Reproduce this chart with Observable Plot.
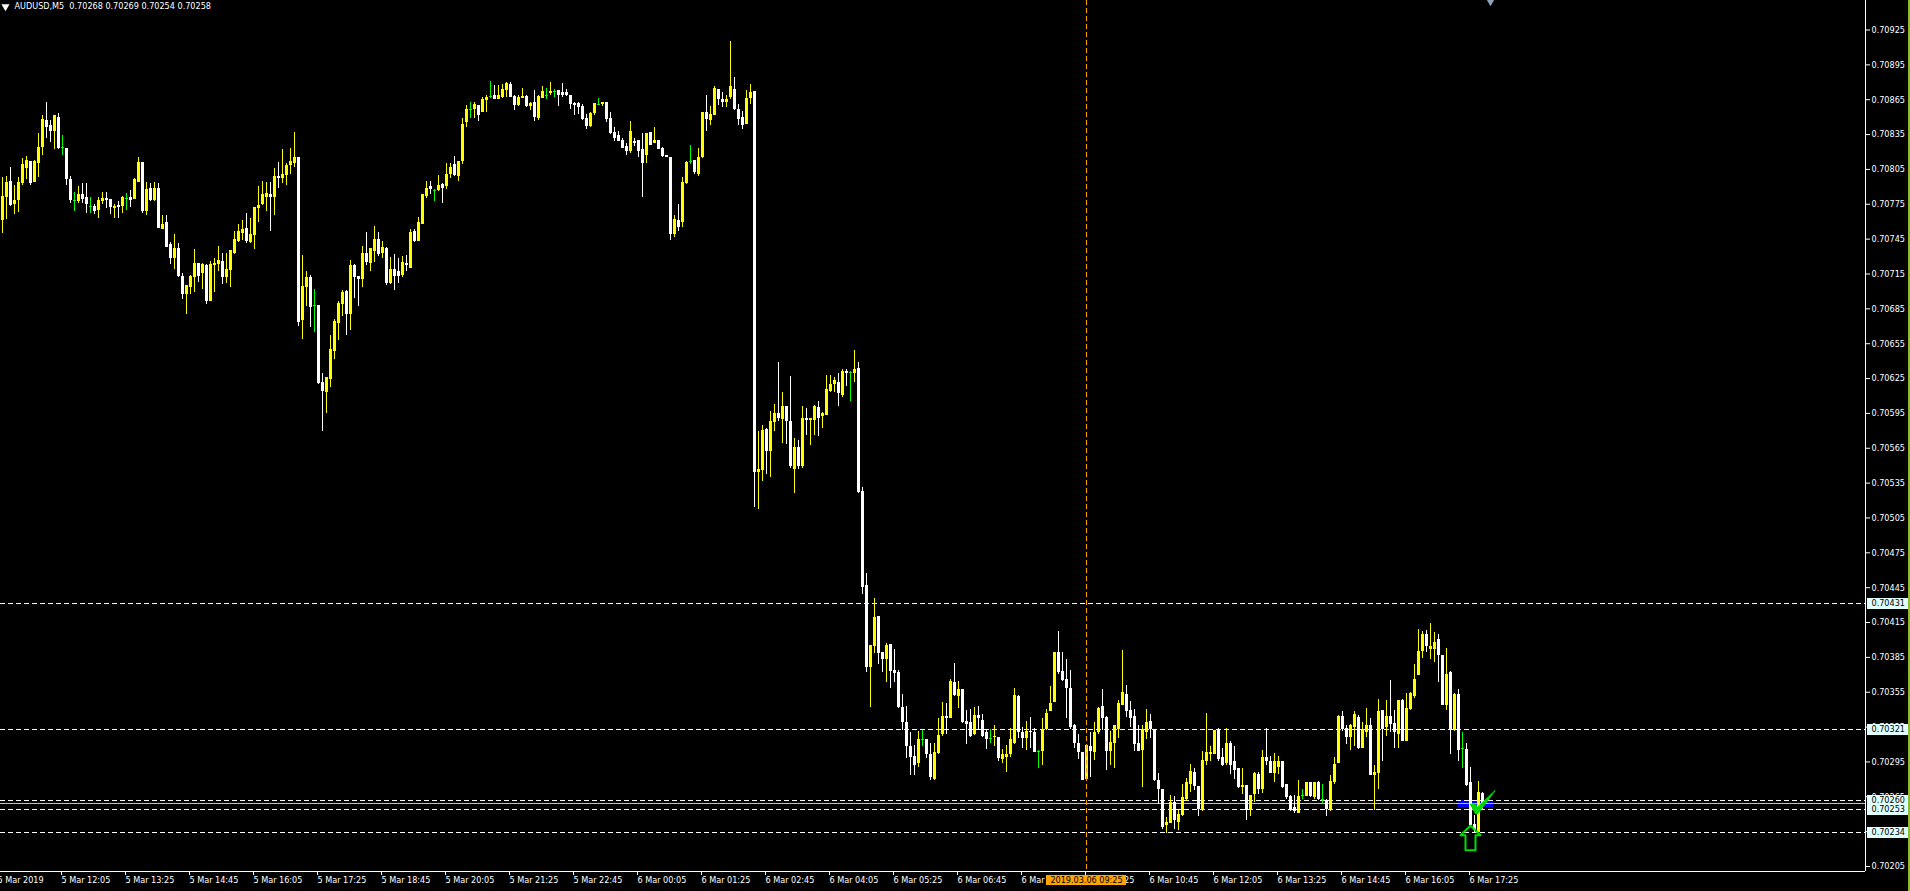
<!DOCTYPE html>
<html>
<head>
<meta charset="utf-8">
<style>
html,body{margin:0;padding:0;background:#000;overflow:hidden}
#strip{position:absolute;left:1908px;top:0;width:2px;height:891px;background:#8fbc2f}
svg{display:block}
</style>
<script src="https://cdn.jsdelivr.net/npm/d3@7"></script>
<script src="https://cdn.jsdelivr.net/npm/@observablehq/plot@0.6"></script>
</head>
<body>
<div id="chart"></div>
<div id="strip"></div>
<script>
// Prices in points (1 point = 0.00001) for AUDUSD M5, first candle 5 Mar 2019 10:50
const highs = [
70798,70799,70807,70791,70798,70814,70816,70812,70813,70836,
70851,70863,70847,70851,70853,70834,70823,70799,70785,70790,
70793,70793,70781,70775,70781,70785,70785,70779,70775,70777,
70782,70784,70787,70797,70815,70811,70794,70793,70794,70793,
70765,70765,70742,70749,70741,70715,70705,70714,70736,70724,
70724,70723,70726,70728,70739,70733,70733,70735,70752,70758,
70761,70767,70763,70772,70790,70795,70794,70794,70806,70811,
70822,70810,70823,70837,70815,70731,70717,70714,70702,70688,
70629,70626,70662,70676,70691,70701,70701,70727,70723,70713,
70739,70751,70737,70756,70751,70743,70738,70729,70732,70728,
70730,70731,70753,70753,70764,70783,70795,70795,70788,70800,
70793,70810,70810,70816,70812,70849,70860,70863,70863,70860,
70867,70869,70881,70877,70877,70878,70880,70880,70869,70869,
70875,70869,70863,70873,70869,70876,70875,70880,70874,70873,
70879,70874,70869,70863,70863,70861,70852,70854,70862,70866,
70863,70863,70854,70841,70838,70832,70827,70846,70832,70830,
70836,70836,70837,70841,70830,70824,70817,70815,70765,70775,
70798,70812,70826,70813,70823,70854,70869,70859,70876,70874,
70871,70869,70915,70884,70861,70855,70873,70878,70872,70579,
70585,70582,70597,70603,70639,70613,70601,70627,70573,70572,
70601,70599,70591,70602,70605,70596,70628,70628,70626,70629,
70633,70633,70631,70649,70639,70531,70457,70395,70436,70420,
70389,70397,70396,70392,70374,70353,70343,70320,70309,70321,
70322,70314,70311,70311,70332,70346,70345,70366,70380,70364,
70357,70339,70340,70342,70343,70336,70323,70323,70326,70316,
70306,70309,70324,70358,70352,70325,70330,70333,70324,70305,
70332,70340,70360,70389,70407,70389,70383,70374,70327,70319,
70303,70309,70320,70329,70342,70357,70334,70321,70326,70348,
70391,70361,70347,70340,70326,70326,70340,70336,70322,70285,
70271,70247,70266,70265,70253,70276,70281,70293,70289,70274,
70304,70337,70308,70322,70324,70307,70324,70313,70308,70289,
70289,70275,70266,70286,70286,70305,70324,70300,70302,70300,
70295,70276,70266,70266,70279,70271,70277,70277,70277,70278,
70276,70263,70283,70299,70335,70338,70326,70327,70338,70335,
70329,70341,70332,70292,70349,70339,70348,70365,70339,70348,
70349,70354,70355,70379,70409,70407,70408,70414,70406,70405,
70387,70393,70373,70354,70357,70320,70311,70290,70249,70278,70269];
const bodyTops = [
70782,70794,70795,70778,70794,70809,70813,70812,70812,70824,
70848,70847,70843,70851,70850,70824,70823,70796,70778,70783,
70783,70781,70773,70773,70778,70780,70780,70779,70773,70774,
70781,70780,70781,70796,70811,70811,70788,70789,70789,70789,
70758,70759,70740,70737,70737,70713,70705,70713,70724,70724,
70723,70722,70723,70724,70727,70726,70719,70735,70745,70752,
70753,70754,70749,70772,70774,70783,70784,70783,70799,70799,
70801,70808,70812,70815,70815,70704,70712,70712,70688,70688,
70622,70626,70650,70674,70690,70699,70700,70722,70722,70713,
70733,70733,70737,70745,70745,70738,70737,70719,70719,70717,
70725,70724,70751,70752,70759,70783,70789,70790,70787,70791,
70792,70801,70807,70809,70812,70844,70857,70857,70861,70860,
70865,70867,70868,70869,70869,70874,70879,70878,70868,70867,
70868,70868,70862,70863,70868,70872,70869,70872,70872,70873,
70871,70871,70869,70862,70862,70859,70849,70853,70862,70861,
70863,70863,70849,70837,70834,70830,70825,70838,70829,70830,
70822,70836,70837,70830,70830,70823,70817,70815,70762,70761,
70794,70811,70812,70813,70815,70854,70854,70852,70875,70874,
70865,70865,70876,70874,70857,70850,70866,70871,70872,70547,
70580,70581,70588,70595,70595,70601,70601,70588,70566,70566,
70591,70591,70591,70601,70600,70595,70616,70620,70623,70622,
70631,70631,70630,70633,70634,70528,70447,70395,70419,70420,
70389,70395,70396,70374,70372,70342,70329,70308,70300,70314,
70314,70314,70301,70303,70318,70334,70334,70364,70363,70357,
70357,70330,70329,70335,70335,70331,70320,70315,70317,70316,
70301,70301,70314,70352,70351,70320,70321,70321,70320,70304,
70323,70337,70345,70389,70389,70373,70366,70358,70326,70311,
70303,70309,70308,70320,70341,70343,70333,70312,70326,70345,
70355,70353,70339,70334,70311,70323,70329,70330,70322,70279,
70271,70243,70260,70260,70250,70264,70277,70287,70286,70274,
70296,70303,70303,70322,70322,70299,70311,70311,70295,70289,
70275,70275,70266,70285,70284,70299,70299,70295,70295,70295,
70295,70276,70265,70256,70265,70266,70277,70277,70277,70277,
70263,70262,70278,70293,70334,70334,70324,70326,70336,70333,
70322,70326,70326,70286,70338,70339,70334,70334,70328,70348,
70348,70341,70354,70366,70390,70405,70405,70394,70398,70400,
70387,70370,70372,70353,70353,70307,70306,70277,70241,70269,70268];
const bodyBottoms = [
70761,70781,70774,70775,70778,70793,70806,70793,70794,70810,
70824,70841,70838,70838,70823,70824,70796,70778,70778,70777,
70779,70775,70773,70769,70770,70777,70778,70772,70771,70772,
70773,70780,70778,70779,70794,70769,70769,70778,70778,70754,
70753,70738,70728,70728,70713,70697,70697,70703,70712,70713,
70715,70691,70691,70722,70723,70712,70712,70718,70733,70743,
70750,70743,70742,70748,70771,70775,70781,70781,70781,70797,
70797,70800,70808,70810,70673,70675,70703,70686,70688,70621,
70614,70613,70624,70648,70672,70689,70680,70680,70712,70710,
70710,70725,70724,70734,70732,70733,70707,70707,70713,70713,
70714,70722,70720,70743,70743,70758,70782,70788,70787,70787,
70789,70790,70801,70800,70799,70812,70845,70857,70857,70851,
70854,70864,70868,70865,70865,70867,70873,70867,70860,70860,
70866,70859,70859,70850,70849,70866,70869,70870,70872,70869,
70869,70869,70861,70860,70858,70848,70842,70842,70853,70861,
70861,70848,70836,70832,70829,70823,70820,70820,70827,70820,
70810,70817,70826,70827,70822,70816,70815,70749,70749,70755,
70759,70793,70812,70802,70801,70815,70848,70847,70851,70865,
70863,70863,70867,70857,70848,70843,70844,70866,70544,70544,
70546,70562,70562,70587,70591,70590,70588,70549,70547,70549,
70549,70589,70589,70589,70591,70592,70593,70614,70620,70612,
70610,70629,70630,70629,70527,70445,70376,70376,70394,70388,
70383,70383,70373,70371,70342,70329,70308,70299,70292,70294,
70314,70301,70282,70280,70302,70319,70332,70332,70352,70351,
70329,70327,70317,70319,70332,70317,70314,70315,70316,70298,
70297,70299,70301,70311,70320,70315,70315,70320,70303,70304,
70304,70323,70338,70346,70372,70365,70358,70325,70311,70303,
70279,70280,70304,70303,70320,70332,70304,70304,70311,70323,
70344,70338,70332,70310,70304,70305,70320,70323,70279,70271,
70239,70240,70242,70245,70243,70249,70263,70276,70274,70254,
70253,70295,70301,70301,70297,70292,70294,70292,70288,70273,
70273,70253,70253,70267,70271,70271,70295,70285,70285,70290,
70273,70264,70254,70252,70251,70266,70265,70265,70264,70263,
70263,70254,70253,70277,70294,70323,70316,70316,70325,70307,
70307,70320,70283,70283,70285,70323,70325,70327,70320,70319,
70313,70313,70340,70351,70369,70390,70394,70392,70392,70387,
70344,70344,70322,70322,70305,70307,70275,70240,70236,70234,70258];
const lows = [
70750,70762,70773,70766,70768,70791,70796,70791,70794,70798,
70817,70832,70828,70822,70822,70817,70791,70776,70769,70776,
70776,70767,70767,70766,70763,70775,70771,70766,70763,70763,
70767,70770,70772,70779,70794,70767,70765,70777,70777,70754,
70753,70738,70723,70719,70712,70693,70680,70697,70699,70708,
70702,70689,70691,70699,70717,70706,70707,70703,70732,70742,
70744,70741,70741,70736,70759,70774,70769,70752,70765,70789,
70793,70791,70801,70807,70670,70659,70687,70669,70665,70620,
70579,70595,70617,70641,70658,70678,70662,70666,70694,70687,
70703,70722,70717,70725,70730,70728,70705,70706,70701,70707,
70712,70717,70720,70742,70743,70758,70780,70783,70777,70786,
70776,70788,70797,70799,70795,70809,70841,70849,70849,70846,
70854,70854,70866,70865,70865,70866,70867,70867,70856,70859,
70866,70858,70856,70846,70847,70866,70865,70869,70867,70859,
70867,70868,70857,70851,70852,70847,70839,70841,70851,70860,
70859,70845,70835,70829,70829,70823,70817,70819,70825,70815,
70781,70810,70826,70827,70822,70815,70815,70744,70746,70752,
70755,70792,70809,70801,70799,70814,70838,70843,70851,70860,
70858,70858,70865,70856,70843,70839,70844,70861,70514,70512,
70536,70542,70540,70579,70588,70569,70568,70548,70526,70547,
70548,70576,70567,70576,70575,70582,70593,70613,70613,70601,
70609,70618,70605,70622,70526,70439,70372,70342,70388,70379,
70372,70363,70358,70363,70341,70322,70298,70283,70283,70290,
70308,70298,70279,70279,70301,70317,70319,70332,70351,70341,
70328,70310,70316,70318,70322,70316,70306,70311,70308,70295,
70294,70286,70299,70310,70315,70307,70305,70307,70303,70289,
70292,70322,70338,70346,70370,70364,70332,70323,70307,70297,
70279,70279,70282,70296,70319,70322,70288,70292,70289,70315,
70344,70333,70325,70304,70304,70273,70314,70315,70278,70258,
70237,70233,70242,70237,70236,70248,70261,70269,70270,70248,
70252,70292,70295,70301,70295,70291,70292,70284,70280,70272,
70267,70245,70248,70260,70267,70268,70292,70285,70277,70284,
70272,70263,70252,70251,70251,70263,70265,70264,70263,70262,
70259,70248,70252,70276,70294,70321,70310,70305,70308,70306,
70307,70316,70283,70253,70271,70295,70317,70320,70307,70307,
70313,70313,70339,70350,70369,70384,70389,70383,70381,70363,
70344,70339,70301,70321,70295,70289,70274,70240,70233,70234,70254];
// u = close above open, d = close below open, n = open equals close
const kinds = [
"uuduuuuduu","uddudnddnu","ddnduuddud","unduududud","uddudduuud",
"uduuuduuuu","uduuuuudud","uuuuduudnd","duuuuududd","uduudududd",
"ududuuudnu","duuduuunud","uunduuuddu","ududuunund","ddddddduun",
"uddddddudd","dududdddud","uunduuduud","duuddduudu","uduududdud",
"uduuduuuud","udnuddduud","dudddddddu","ndduuududu","dddudddnud",
"uuuuddudd".concat("n"),"uuuudddddd","duduudduuu","udddduuddd","duuduuuudd",
"uuuudduddd","uduududduu","ddddunudud","nduuudduud","uuduududdu",
"duuuuuduud","dududndddu","d"
].join("");
if ([highs,bodyTops,bodyBottoms,lows].some(a=>a.length!==371) || kinds.length!==371) throw new Error("length "+[highs.length,bodyTops.length,bodyBottoms.length,lows.length,kinds.length]);

const firstCandle = "2019-03-05T10:50:00Z";
const xTickTimes = [
"2019-03-05T10:45Z","2019-03-05T12:05Z","2019-03-05T13:25Z","2019-03-05T14:45Z","2019-03-05T16:05Z","2019-03-05T17:25Z",
"2019-03-05T18:45Z","2019-03-05T20:05Z","2019-03-05T21:25Z","2019-03-05T22:45Z","2019-03-06T00:05Z","2019-03-06T01:25Z",
"2019-03-06T02:45Z","2019-03-06T04:05Z","2019-03-06T05:25Z","2019-03-06T06:45Z","2019-03-06T08:05Z","2019-03-06T09:25Z",
"2019-03-06T10:45Z","2019-03-06T12:05Z","2019-03-06T13:25Z","2019-03-06T14:45Z","2019-03-06T16:05Z","2019-03-06T17:25Z"];
const yTickValues = [70925,70895,70865,70835,70805,70775,70745,70715,70685,70655,70625,70595,70565,70535,70505,70475,70445,70415,70385,70355,70325,70295,70265,70235,70205];
const levelPrices = [70431.4,70323,70261.8,70254,70234.3];
const levelLabels = ["0.70431","0.70321","0.70260","0.70253","0.70234"];
const bidPrice = 70259.2;
const headerText = "AUDUSD,M5\u00a0\u00a00.70268 0.70269 0.70254 0.70258";
const cursorTime = "2019.03.06 09:25";
// Hand-drawn objects, in (candle number, points)
const arrowCandles = [367,369.5,368.25,368.25,365.75,365.75,364.5,367];
const arrowPrices  = [70240,70232,70232,70219,70219,70232,70232,70240];
const checkCandles = [367,368,368.75,373.17,368.83,368.25,367];
const checkPrices  = [70258.4,70259.3,70256,70270.4,70250.4,70250.4,70258.4];

const price = p => p / 1e5;
const t0 = +new Date(firstCandle);
const time = i => new Date(t0 + i * 300000);
const fontFamily = "'DejaVu Sans Condensed', 'DejaVu Sans', sans-serif";
const colors = {u:"#ffff00", d:"#ffffff", n:"#00ff00"};

const candles = highs.map((h,i)=>({i, t:time(i), high:price(h), low:price(lows[i]),
  top:price(bodyTops[i]), bottom:price(bodyBottoms[i]), kind:kinds[i], color:colors[kinds[i]]}));
const bodies = candles.filter(c=>c.kind!=="n");
const dojis = candles.filter(c=>c.kind==="n");
const xTicks = xTickTimes.map(s=>new Date(s));
const fmtTick = d3.utcFormat("%-d %b %H:%M");
const tickText = d => +d===+xTicks[0] ? "5 Mar 2019" : fmtTick(d);
const arrow = arrowCandles.map((c,k)=>({t:time(c), y:price(arrowPrices[k])}));
const check = checkCandles.map((c,k)=>({t:time(c), y:price(checkPrices[k])}));
const levels = levelPrices.map((p,k)=>({y:price(p), label:levelLabels[k]}));

const plot = Plot.plot({
  width:1910, height:891, marginLeft:0, marginTop:0, marginRight:45, marginBottom:20,
  style:{background:"#000", color:"#fff", fontFamily, fontStretch:"condensed", fontSize:"9px"},
  x:{type:"utc", domain:[time(-0.5), time(465.75)], range:[0,1865]},
  y:{domain:[0.702007,0.709504], range:[871,0]},
  color:{type:"identity"},
  marks:[
    Plot.rect([{}],{x1:time(364), x2:time(372.75), y1:price(70255.8), y2:price(70261.9), fill:"#0000ff", shapeRendering:"crispEdges"}),
    Plot.ruleY(levels,{y:"y", stroke:"#fff", strokeDasharray:"5,3", shapeRendering:"crispEdges"}),
    Plot.ruleY([price(bidPrice)],{stroke:"#c0c0c0", shapeRendering:"crispEdges"}),
    Plot.ruleX(candles,{x:"t", y1:"low", y2:"high", stroke:"color", shapeRendering:"crispEdges"}),
    Plot.ruleX(bodies,{x:"t", y1:"bottom", y2:"top", stroke:"color", strokeWidth:3, shapeRendering:"crispEdges"}),
    Plot.ruleY(dojis,{y:"top", x1:d=>time(d.i-0.25), x2:d=>time(d.i+0.5), stroke:"color", shapeRendering:"crispEdges"}),
    Plot.ruleX([time(271)],{stroke:"#ffa500", strokeDasharray:"5,3", shapeRendering:"crispEdges"}),
    Plot.line(check,{x:"t", y:"y", stroke:"#00dc00", fill:"#00dc00", strokeWidth:1}),
    Plot.line(arrow,{x:"t", y:"y", stroke:"#00dc00", strokeWidth:2}),
    Plot.axisX({anchor:"bottom", ticks:xTicks, tickFormat:tickText, tickSize:4, tickPadding:1, textAnchor:"start", dx:-1, lineAnchor:"top", label:null, stroke:"#fff", fill:"#fff"}),
    Plot.axisY({anchor:"right", ticks:yTickValues.map(price), tickFormat:d=>d.toFixed(5), tickSize:4, tickPadding:2, label:null, stroke:"#fff", fill:"#fff"}),
    Plot.ruleY([0.702007],{stroke:"#fff", shapeRendering:"crispEdges"}),
    Plot.ruleX([time(465.75)],{stroke:"#fff", shapeRendering:"crispEdges"}),
    Plot.ruleY(levels,{y:"y", x1:time(466.25), x2:time(476.5), stroke:"#e0ffff", strokeWidth:11, shapeRendering:"crispEdges"}),
    Plot.text(levels,{y:"y", x:time(467.25), text:"label", textAnchor:"start", fill:"#000"}),
    Plot.rect([{}],{x1:time(261), x2:time(281), y1:price(70197.3), y2:price(70188.6), fill:"#ffa500", shapeRendering:"crispEdges"}),
    Plot.text([cursorTime],{x:time(271), y:price(70193), text:d=>d, fill:"#000"}),
    Plot.text([headerText],{frameAnchor:"top-left", dx:14, dy:2, text:d=>d, textAnchor:"start", lineAnchor:"top", fill:"#fff"}),
    Plot.dot([0],{frameAnchor:"top-left", dx:5, dy:6, symbol:"triangle", r:3, rotate:180, fill:"#fff"}),
    Plot.dot([time(372)],{x:d=>d, frameAnchor:"top", dy:-2, symbol:"triangle", r:5, rotate:180, fill:"#8ea2bd"})
  ]
});
document.getElementById("chart").appendChild(plot);
</script>
</body>
</html>
